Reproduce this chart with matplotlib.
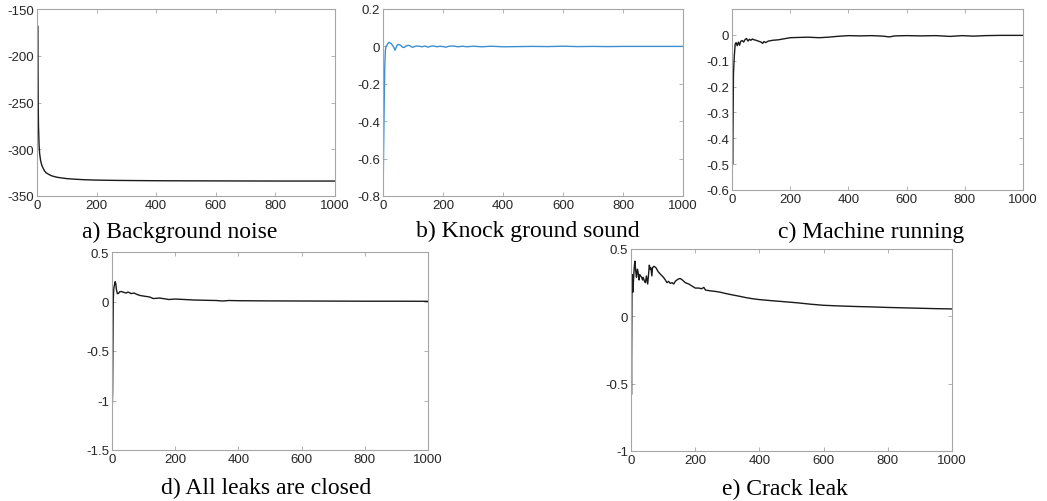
import matplotlib
matplotlib.use("Agg")
import matplotlib.pyplot as plt
import numpy as np

# step 1

# a) Background noise
a_x = [0, 1, 2, 3, 4, 5, 7, 9, 12, 16, 20, 25, 30, 40, 50, 65, 80, 100, 130, 160, 200, 260, 330, 420, 520, 650, 800, 1000]
a_y = [-335, -250, -168, -215, -250, -275, -296, -305, -312, -317, -320, -323, -325, -327, -328.5, -329.8, -330.6, -331.4, -332.1, -332.6, -333.0, -333.3, -333.5, -333.7, -333.8, -333.9, -334.0, -334.0]

# b) Knock ground sound
b_x = [0, 1, 2, 4, 6, 8, 10, 13, 16, 20, 24, 28, 32, 36, 40, 44, 48, 52, 56, 60, 65, 70, 75, 80, 85, 90, 95, 100,
       110, 120, 130, 140, 150, 160, 170, 180, 190, 200, 210, 220, 235, 250, 265, 280, 300, 330, 360, 400, 450,
       500, 550, 600, 650, 700, 750, 800, 850, 900, 950, 1000]
b_y = [-0.62, -0.69, -0.55, -0.30, -0.10, -0.02, 0.0, 0.005, 0.015, 0.022, 0.018, 0.013, 0.005, -0.005, -0.020, -0.005, 0.008, 0.010, 0.008, 0.004, -0.004, -0.006, 0.0, 0.004, 0.006, 0.003, -0.003, -0.004,
       0.002, 0.001, -0.002, 0.002, -0.004, 0.001, 0.002, -0.002, 0.001, -0.001, -0.004, 0.001, 0.002, -0.002, 0.001, -0.002, 0.001, -0.002, 0.001, -0.002, -0.001,
       0.0, -0.001, 0.001, -0.001, 0.0, -0.001, 0.0, 0.0, 0.0, 0.0, 0.0]

# c) Machine running
c_x = [0, 2, 3, 5, 8, 11, 14, 18, 22, 26, 30, 35, 40, 45, 50, 55, 60, 65, 70, 75, 80, 90, 100, 105, 110, 115, 125, 140,
       160, 180, 200, 230, 260, 300, 330, 360, 400, 440, 480, 520, 540, 560, 600, 650, 700, 750, 790, 830, 870, 920, 960, 1000]
c_y = [-0.30, -0.50, -0.42, -0.15, -0.08, -0.035, -0.03, -0.042, -0.028, -0.040, -0.025, -0.022, -0.028, -0.018, -0.014, -0.024, -0.017, -0.021, -0.016, -0.019, -0.020, -0.024, -0.028, -0.033, -0.026, -0.030, -0.024, -0.021,
       -0.019, -0.015, -0.011, -0.010, -0.009, -0.011, -0.009, -0.006, -0.003, -0.004, -0.003, -0.005, -0.008, -0.004, -0.003, -0.004, -0.003, -0.006, -0.003, -0.005, -0.003, -0.002, -0.002, -0.002]

# d) All leaks are closed
d_x = [0, 1, 2, 3, 4, 5, 6, 8, 10, 12, 14, 17, 20, 25, 30, 35, 40, 45, 50, 55, 60, 70, 80, 90, 100, 110, 120, 130, 140,
       150, 165, 180, 200, 230, 260, 300, 330, 350, 370, 400, 450, 500, 600, 700, 800, 900, 1000]
d_y = [-0.85, -1.05, -0.90, -0.40, 0.0, 0.10, 0.14, 0.17, 0.20, 0.18, 0.12, 0.08, 0.08, 0.10, 0.10, 0.095, 0.09, 0.085, 0.095, 0.09, 0.08, 0.085, 0.07, 0.06, 0.055, 0.05, 0.045, 0.03, 0.032,
       0.035, 0.028, 0.02, 0.025, 0.02, 0.015, 0.012, 0.01, 0.005, 0.01, 0.008, 0.007, 0.006, 0.005, 0.004, 0.003, 0.003, 0.002]

# e) Crack leak
e_x = [0, 1, 1.5, 2, 3, 4, 6, 8, 10, 12, 15, 17, 20, 22, 25, 27, 30, 33, 36, 38, 42, 45, 48, 52, 55, 57, 60, 62, 65, 67, 70, 73, 78,
       85, 93, 101, 107, 112, 117, 122, 128, 133, 138, 143, 150, 154, 160, 169, 180, 190, 200, 211, 220, 227, 232, 245, 263,
       280, 294, 310, 325, 340, 356, 375, 397, 420, 444, 480, 520, 560, 600, 650, 700, 750, 800, 850, 900, 950, 1000]
e_y = [-1.0, -0.35, -0.58, -0.30, 0.17, 0.31, 0.18, 0.28, 0.36, 0.41, 0.33, 0.29, 0.35, 0.33, 0.27, 0.31, 0.30, 0.29, 0.27, 0.29, 0.26, 0.25, 0.30, 0.24, 0.32, 0.38, 0.35, 0.36, 0.30, 0.36, 0.37, 0.37, 0.36,
       0.33, 0.31, 0.29, 0.27, 0.25, 0.26, 0.245, 0.25, 0.24, 0.26, 0.27, 0.28, 0.28, 0.27, 0.25, 0.24, 0.225, 0.21, 0.21, 0.205, 0.215, 0.195, 0.19, 0.185,
       0.178, 0.17, 0.162, 0.155, 0.148, 0.14, 0.132, 0.125, 0.12, 0.115, 0.108, 0.10, 0.09, 0.082, 0.077, 0.073, 0.07, 0.066, 0.063, 0.06, 0.057, 0.055]

x_ticks = [0, 200, 400, 600, 800, 1000]

# step 2 - figure and axes
plt.rcParams["font.family"] = "Liberation Sans"
plt.rcParams["axes.unicode_minus"] = False

W, H = 1047, 502
fig = plt.figure(figsize=(W / 100, H / 100), dpi=100)


def make_axes(px_left, px_right, px_top, px_bottom):
    ax = fig.add_axes([px_left / W, 1 - px_bottom / H, (px_right - px_left) / W, (px_bottom - px_top) / H])
    for s in ax.spines.values():
        s.set_color("#a6a6a6")
        s.set_linewidth(0.8)
    ax.tick_params(direction="in", length=3, width=0.6, color="#a6a6a6",
                   top=True, right=True, labelsize=9.5, labelcolor="#262626", pad=2)
    ax.set_xlim(0, 1000)
    ax.set_xticks(x_ticks)
    return ax


line_kw = dict(color="#1a1a1a", linewidth=1.0)

# a
ax_a = make_axes(37, 335, 10, 197)
ax_a.plot(a_x, a_y, **line_kw)
ax_a.set_ylim(-350, -150)
ax_a.set_yticks([-350, -300, -250, -200, -150])

# b
ax_b = make_axes(383, 683, 10, 197)
ax_b.plot(b_x, b_y, color="#3a8fd3", linewidth=1.0)
ax_b.set_ylim(-0.8, 0.2)
ax_b.set_yticks([-0.8, -0.6, -0.4, -0.2, 0, 0.2])
ax_b.set_yticklabels(["-0.8", "-0.6", "-0.4", "-0.2", "0", "0.2"])

# c
ax_c = make_axes(732, 1023, 10, 191)
ax_c.plot(c_x, c_y, **line_kw)
ax_c.set_ylim(-0.6, 0.1)
ax_c.set_yticks([-0.6, -0.5, -0.4, -0.3, -0.2, -0.1, 0])
ax_c.set_yticklabels(["-0.6", "-0.5", "-0.4", "-0.3", "-0.2", "-0.1", "0"])

# d
ax_d = make_axes(112, 428, 253, 451)
ax_d.plot(d_x, d_y, **line_kw)
ax_d.set_ylim(-1.5, 0.5)
ax_d.set_yticks([-1.5, -1, -0.5, 0, 0.5])
ax_d.set_yticklabels(["-1.5", "-1", "-0.5", "0", "0.5"])

# e
ax_e = make_axes(631, 952, 250, 452)
ax_e.plot(e_x, e_y, **line_kw)
ax_e.set_ylim(-1, 0.5)
ax_e.set_yticks([-1, -0.5, 0, 0.5])
ax_e.set_yticklabels(["-1", "-0.5", "0", "0.5"])

# step 3 - captions under each panel
captions = [
    ("a) Background noise", 180, 238),
    ("b) Knock ground sound", 528, 237),
    ("c) Machine running", 871, 238),
    ("d) All leaks are closed", 266, 494),
    ("e) Crack leak", 785, 495),
]
for text, cx, cy in captions:
    fig.text(cx / W, 1 - cy / H, text, ha="center", va="baseline",
             family="Liberation Serif", fontsize=17, color="black")

plt.savefig("out.png", dpi=100)
plt.close()
